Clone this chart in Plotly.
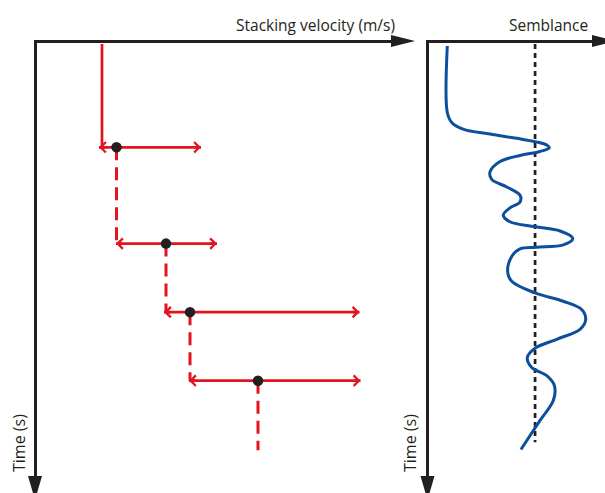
import plotly.graph_objects as go

W, H = 605, 493

# ---------------- data ----------------
# Left panel: velocity picks (time in s, stacking velocity in m/s)
pick_time = [1.04, 2.01, 2.70, 3.39]
pick_velocity = [1815, 2310, 2550, 3230]
range_low = [1640, 1810, 2290, 2540]
range_high = [2660, 2820, 4245, 4255]
start_velocity = 1670
end_time = 4.09

# Right panel: semblance curve
semb_time = [0.02, 0.69, 0.79, 0.857, 0.907, 0.95, 0.983, 1.017, 1.047, 1.083,
             1.123, 1.183, 1.29, 1.363, 1.44, 1.523, 1.59, 1.65, 1.723, 1.79,
             1.84, 1.883, 1.957, 2.023, 2.047, 2.063, 2.14, 2.29, 2.39, 2.507,
             2.59, 2.673, 2.773, 2.873, 2.973, 3.063, 3.157, 3.257, 3.34, 3.44,
             3.59, 3.79, 4.083]
semb_value = [0.109, 0.109, 0.134, 0.198, 0.350, 0.501, 0.605, 0.671, 0.685, 0.633,
              0.520, 0.407, 0.350, 0.360, 0.445, 0.520, 0.520, 0.463, 0.425, 0.463,
              0.605, 0.746, 0.818, 0.764, 0.614, 0.520, 0.473, 0.450, 0.473, 0.605,
              0.764, 0.868, 0.891, 0.859, 0.727, 0.605, 0.561, 0.586, 0.671, 0.714,
              0.708, 0.633, 0.525]
semb_threshold = 0.605
threshold_end = 4.01

x_title = "Stacking velocity (m/s)"
x2_title = "Semblance"
y_title = "Time (s)"

# ---------------- style ----------------
RED = "#e3141e"
BLUE = "#0c4f9c"
INK = "#231f20"
FONT = "Open Sans"


def px(x):
    return x / W


def py(y):
    return 1 - y / H


fig = go.Figure()

# initial solid red segment
fig.add_trace(go.Scatter(
    x=[start_velocity, start_velocity], y=[0, pick_time[0]],
    mode="lines", line=dict(color=RED, width=2.7),
    xaxis="x", yaxis="y", hoverinfo="skip"))

# dashed verticals below each pick
for i, (t, v) in enumerate(zip(pick_time, pick_velocity)):
    t_next = pick_time[i + 1] if i + 1 < len(pick_time) else end_time
    fig.add_trace(go.Scatter(
        x=[v, v], y=[t, t_next], mode="lines",
        line=dict(color=RED, width=3, dash="13px,7px"),
        xaxis="x", yaxis="y", hoverinfo="skip"))

# horizontal uncertainty bars
for t, lo, hi in zip(pick_time, range_low, range_high):
    fig.add_trace(go.Scatter(
        x=[lo, hi], y=[t, t], mode="lines",
        line=dict(color=RED, width=2.7),
        xaxis="x", yaxis="y", hoverinfo="skip"))

# picks
fig.add_trace(go.Scatter(
    x=pick_velocity, y=pick_time, mode="markers",
    marker=dict(color=INK, size=10.5),
    xaxis="x", yaxis="y", hoverinfo="skip"))

# semblance threshold (dotted)
fig.add_trace(go.Scatter(
    x=[semb_threshold, semb_threshold], y=[0, threshold_end], mode="lines",
    line=dict(color=INK, width=2.7, dash="5px,4px"),
    xaxis="x2", yaxis="y2", hoverinfo="skip"))

# semblance curve
fig.add_trace(go.Scatter(
    x=semb_value, y=semb_time, mode="lines",
    line=dict(color=BLUE, width=3, shape="spline", smoothing=1.0),
    xaxis="x2", yaxis="y2", hoverinfo="skip"))

annotations = []
# chevron arrowheads on the uncertainty bars
for t, lo, hi in zip(pick_time, range_low, range_high):
    for xv, off in ((hi, -8), (lo, 8)):
        annotations.append(dict(
            x=xv, y=t, xref="x", yref="y", ax=off, ay=0,
            showarrow=True, arrowhead=4, arrowsize=0.75, arrowwidth=2.7,
            arrowcolor=RED, text=""))

# titles
annotations += [
    dict(x=px(397), y=py(25), xref="paper", yref="paper", text=x_title,
         showarrow=False, xanchor="right", yanchor="middle",
         font=dict(family=FONT, size=15.5, color=INK)),
    dict(x=px(590), y=py(25), xref="paper", yref="paper", text=x2_title,
         showarrow=False, xanchor="right", yanchor="middle",
         font=dict(family=FONT, size=15.5, color=INK)),
    dict(x=px(19), y=py(443), xref="paper", yref="paper", text=y_title,
         showarrow=False, textangle=-90, xanchor="center", yanchor="middle",
         font=dict(family=FONT, size=16, color=INK)),
    dict(x=px(410), y=py(443), xref="paper", yref="paper", text=y_title,
         showarrow=False, textangle=-90, xanchor="center", yanchor="middle",
         font=dict(family=FONT, size=16, color=INK)),
]


def tri(points):
    return "M " + " L ".join(f"{px(a):.5f},{py(b):.5f}" for a, b in points) + " Z"


shapes = [
    dict(type="path", xref="paper", yref="paper", line_width=0, fillcolor=INK,
         path=tri([(391, 35), (415, 41), (391, 47)])),
    dict(type="path", xref="paper", yref="paper", line_width=0, fillcolor=INK,
         path=tri([(28, 476), (35, 500), (42, 476)])),
    dict(type="path", xref="paper", yref="paper", line_width=0, fillcolor=INK,
         path=tri([(592, 35), (616, 41), (592, 47)])),
    dict(type="path", xref="paper", yref="paper", line_width=0, fillcolor=INK,
         path=tri([(420.5, 476), (427.5, 500), (434.5, 476)])),
]

axis_common = dict(showgrid=False, zeroline=False, showticklabels=False,
                   ticks="", showline=True, linecolor=INK, linewidth=3,
                   fixedrange=True)

fig.update_layout(
    width=W, height=H, autosize=False,
    margin=dict(l=0, r=0, t=0, b=0),
    paper_bgcolor="white", plot_bgcolor="white",
    showlegend=False,
    xaxis=dict(domain=[px(36.5), px(393)], range=[1015, 4580], side="top",
               anchor="y", **axis_common),
    yaxis=dict(domain=[py(478), py(42.5)], range=[4.37, -0.015], anchor="x",
               **axis_common),
    xaxis2=dict(domain=[px(429), px(592)], range=[1 / 177, 164 / 177], side="top",
                anchor="y2", **axis_common),
    yaxis2=dict(domain=[py(478), py(42.5)], range=[4.37, -0.015], anchor="x2",
                **axis_common),
    annotations=annotations,
    shapes=shapes,
)

fig.write_html("out.html", config={"displayModeBar": False},
               post_script="document.body.style.margin='0';")
